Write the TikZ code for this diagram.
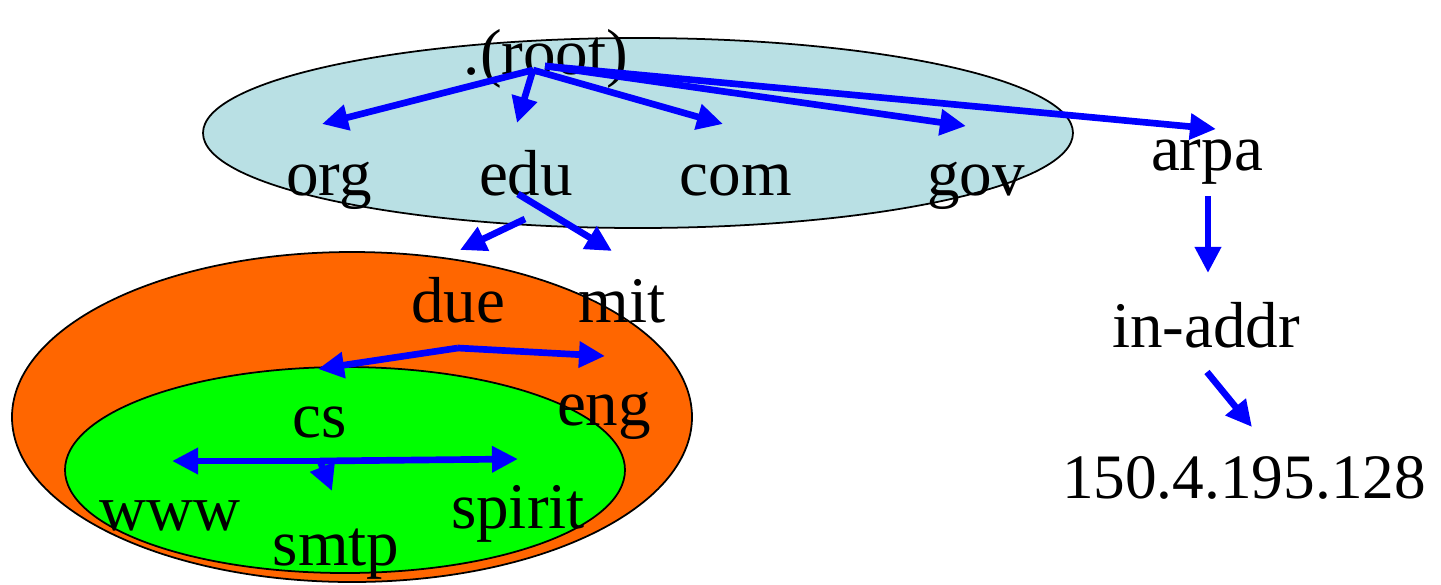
\documentclass[tikz,border=0pt]{standalone}
\usepackage{fontspec}
\setmainfont{Liberation Serif}
\usetikzlibrary{arrows.meta}

\definecolor{zoneblue}{RGB}{185,224,228}
\definecolor{zoneorange}{RGB}{255,102,0}
\definecolor{zonegreen}{RGB}{0,255,0}

\tikzset{
    zone/.style={draw=black, line width=0.5pt},
    dnslabel/.style={font=\fontsize{18.5}{22}\selectfont, anchor=base, inner sep=0pt},
    link/.style={draw=blue, line width=1.9pt, -{Triangle[length=0.26cm,width=0.25cm]}}
}

\begin{document}
\begin{tikzpicture}[x=0.01cm, y=-0.01cm]
    \useasboundingbox (0,0) rectangle (1441,584);

    % Zonas
    \fill[zoneblue] (638,133) ellipse [x radius=435, y radius=95];
    \draw[zone] (638,133) ellipse [x radius=435, y radius=95];
    \fill[zoneorange] (352,417) ellipse [x radius=340, y radius=165];
    \draw[zone] (352,417) ellipse [x radius=340, y radius=165];
    \fill[zonegreen] (345,470) ellipse [x radius=280, y radius=103];
    \draw[zone] (345,470) ellipse [x radius=280, y radius=103];

    % Nombres
    \node[dnslabel] (root) at (546,74) {.(root)};
    \node[dnslabel] (org) at (329,195) {org};
    \node[dnslabel] (edu) at (526,195) {edu};
    \node[dnslabel] (com) at (736,195) {com};
    \node[dnslabel] (gov) at (976,195) {gov};
    \node[dnslabel] (arpa) at (1207,170) {arpa};
    \node[dnslabel] (due) at (458,322) {due};
    \node[dnslabel] (mit) at (622,322) {mit};
    \node[dnslabel] (cs) at (320,437) {cs};
    \node[dnslabel] (eng) at (604,425) {eng};
    \node[dnslabel] (www) at (170,530) {www};
    \node[dnslabel] (smtp) at (336,565) {smtp};
    \node[dnslabel] (spirit) at (518,528) {spirit};
    \node[dnslabel] (inaddr) at (1206,347) {in-addr};
    \node[dnslabel, font=\fontsize{18}{22}\selectfont] (ip) at (1244,498) {150.4.195.128};

    % Puntos de partida y llegada
    \coordinate (rootfork) at (533,70);
    \coordinate (rootfork2) at (545,66);
    \coordinate (to-org) at (322,124);
    \coordinate (to-edu) at (517,123);
    \coordinate (to-com) at (723,124);
    \coordinate (to-gov) at (966,126);
    \coordinate (to-arpa) at (1216,129);
    \coordinate (edu-left) at (525,219);
    \coordinate (edu-right) at (518,194);
    \coordinate (to-due) at (460,250);
    \coordinate (to-mit) at (612,251);
    \coordinate (duefork) at (458,348);
    \coordinate (to-cs) at (318,369);
    \coordinate (to-eng) at (605,356);
    \coordinate (csfork) at (320,461);
    \coordinate (to-www) at (172,461);
    \coordinate (to-spirit) at (518,459);
    \coordinate (to-smtp) at (332,491);
    \coordinate (arpa-out) at (1208,196);
    \coordinate (to-inaddr) at (1208,273);
    \coordinate (inaddr-out) at (1207,372);
    \coordinate (to-ip) at (1252,427);

    % Flechas
    \draw[link] (rootfork) -- (to-org);
    \draw[link] (rootfork) -- (to-edu);
    \draw[link] (rootfork) -- (to-com);
    \draw[link] (rootfork2) -- (to-gov);
    \draw[link] (rootfork2) -- (to-arpa);
    \draw[link] (edu-left) -- (to-due);
    \draw[link] (edu-right) -- (to-mit);
    \draw[link] (duefork) -- (to-cs);
    \draw[link] (duefork) -- (to-eng);
    \draw[link] (csfork) -- (to-www);
    \draw[link] (csfork) -- (to-spirit);
    \draw[link] (csfork) -- (to-smtp);
    \draw[link] (arpa-out) -- (to-inaddr);
    \draw[link] (inaddr-out) -- (to-ip);
\end{tikzpicture}
\end{document}
